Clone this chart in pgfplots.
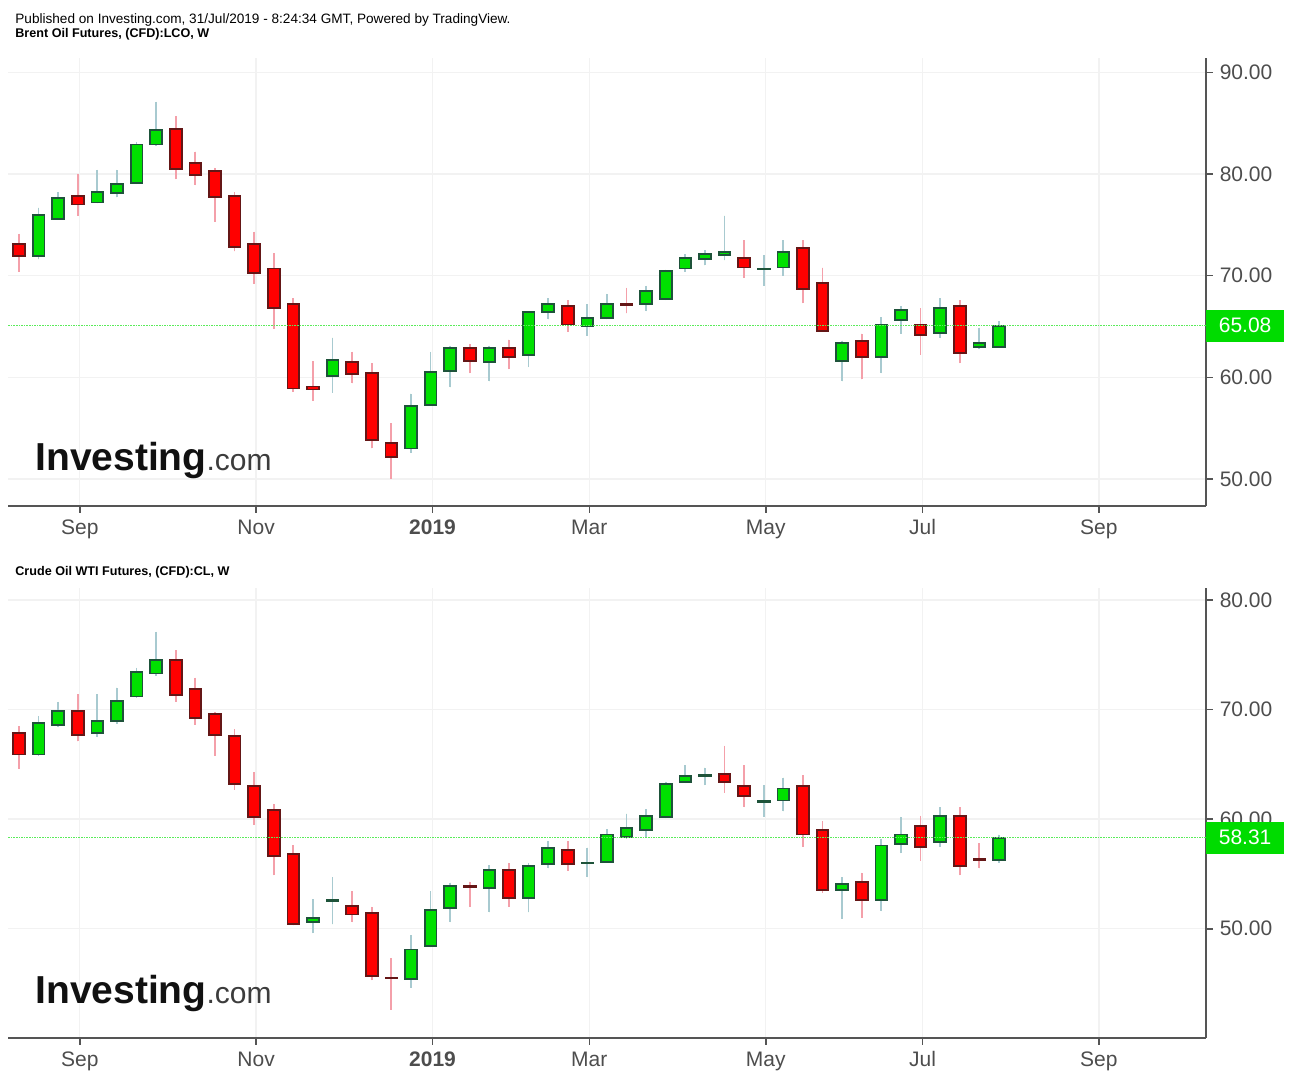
\documentclass[border=0pt]{standalone}
\usepackage{pgfplots}
\pgfplotsset{compat=1.18}
\usepackage{pgfplotstable}
\usepgfplotslibrary{statistics}
\usepackage{fontspec}
\setmainfont{Liberation Sans}

\definecolor{upfill}{RGB}{0,224,0}
\definecolor{upline}{RGB}{30,83,58}
\definecolor{upwick}{RGB}{168,202,208}
\definecolor{dnfill}{RGB}{255,0,0}
\definecolor{dnline}{RGB}{100,22,22}
\definecolor{dnwick}{RGB}{244,160,170}
\definecolor{gridcol}{RGB}{242,242,242}
\definecolor{axiscol}{RGB}{85,85,85}
\definecolor{tickcol}{RGB}{77,77,77}
\definecolor{pricegreen}{RGB}{0,220,0}
\definecolor{lastline}{RGB}{90,235,90}
\definecolor{logoblack}{RGB}{17,17,17}
\definecolor{logogrey}{RGB}{60,60,60}

\pgfplotstableread{
o c h l
73.1 71.9 74.1 70.4
71.9 76.0 76.7 71.6
75.6 77.6 78.2 75.5
77.8 77.0 80.0 75.9
77.2 78.2 80.4 77.1
78.1 79.0 80.4 77.7
79.1 82.9 83.1 79.0
82.9 84.3 87.1 82.8
84.4 80.5 85.7 79.5
81.1 79.9 82.2 78.9
80.3 77.7 80.6 75.3
77.8 72.8 78.2 72.4
73.1 70.3 74.3 69.2
70.7 66.8 72.2 64.8
67.2 58.9 67.8 58.6
59.1 58.8 61.6 57.7
60.1 61.7 63.9 58.5
61.5 60.3 62.5 59.4
60.4 53.8 61.4 53.0
53.5 52.2 55.5 50.0
53.0 57.2 58.4 52.6
57.3 60.5 62.5 57.2
60.6 62.9 63.1 59.0
62.9 61.6 63.3 60.4
61.5 62.9 63.1 59.6
62.9 62.0 63.7 60.8
62.2 66.4 66.5 61.0
66.4 67.2 67.8 65.7
67.0 65.2 67.6 64.5
65.0 65.8 67.2 64.1
65.8 67.2 68.2 65.7
67.2 67.15 68.8 66.3
67.2 68.5 69.0 66.5
67.7 70.5 70.6 67.6
70.7 71.7 72.1 70.4
71.6 72.1 72.5 71.0
72.0 72.3 75.9 71.5
71.7 70.8 73.5 69.8
70.65 70.7 72.0 69.0
70.8 72.3 73.5 70.0
72.7 68.7 73.5 67.3
69.3 64.6 70.8 64.5
61.6 63.4 63.6 59.6
63.6 62.0 64.3 59.8
62.0 65.2 65.9 60.4
65.6 66.6 67.0 64.3
65.2 64.2 66.8 62.2
64.4 66.8 67.8 63.9
67.0 62.4 67.6 61.4
63.0 63.4 64.9 62.8
63.0 65.08 65.5 62.9
}\brent

\pgfplotstableread{
o c h l
67.9 65.9 68.5 64.6
65.9 68.8 69.4 65.8
68.6 69.9 70.7 68.4
69.9 67.7 71.4 67.1
67.9 69.0 71.4 67.5
69.0 70.8 72.0 68.7
71.2 73.4 73.8 71.1
73.3 74.5 77.1 73.1
74.5 71.3 75.4 70.7
71.9 69.2 72.9 68.6
69.6 67.7 69.8 65.8
67.6 63.2 68.2 62.7
63.0 60.2 64.3 59.5
60.8 56.6 61.4 54.9
56.8 50.4 57.6 50.3
50.6 51.0 52.7 49.6
52.55 52.6 54.7 50.4
52.1 51.3 53.4 50.6
51.4 45.7 52.0 45.3
45.55 45.5 47.3 42.6
45.4 48.1 49.4 44.6
48.4 51.7 53.4 48.3
51.9 53.9 54.2 50.6
53.9 53.8 54.3 52.0
53.7 55.4 55.8 51.5
55.4 52.8 56.0 52.0
52.8 55.7 56.0 51.5
55.9 57.4 58.0 55.5
57.2 55.9 58.0 55.3
55.95 56.0 57.4 54.7
56.1 58.6 59.1 56.0
58.4 59.2 60.5 58.2
59.0 60.3 60.9 58.4
60.2 63.2 63.4 60.1
63.4 63.9 64.9 63.3
63.95 64.0 64.7 63.1
64.1 63.4 66.7 62.4
63.0 62.1 64.9 61.1
61.6 61.65 63.1 60.2
61.7 62.8 63.8 60.7
63.0 58.6 64.0 57.5
59.0 53.5 59.8 53.3
53.5 54.1 54.7 50.9
54.3 52.6 55.1 51.0
52.6 57.6 58.2 51.6
57.7 58.6 60.2 56.9
59.4 57.5 60.3 56.2
57.9 60.3 61.1 57.5
60.3 55.7 61.1 54.9
56.35 56.3 57.8 55.5
56.3 58.31 58.6 56.0
}\wti

\pgfplotsset{
  candleaxis/.style={
    scale only axis, width=598.7pt,
    xmin=-0.546, xmax=60.55,
    axis x line*=bottom, axis y line*=right,
    axis line style={-, draw=axiscol, line width=1pt},
    xtick={3.1,12.1,21.1,29.1,38.1,46.1,55.1},
    xticklabels={Sep,Nov,\textbf{2019},Mar,May,Jul,Sep},
    tick align=outside,
    major tick length=3.5pt,
    tick style={draw=axiscol, line width=0.8pt},
    xmajorgrids, ymajorgrids,
    major grid style={draw=gridcol, line width=0.7pt},
    tick label style={font=\fontsize{10.5}{12}\selectfont, text=tickcol},
    y tick label style={/pgf/number format/.cd, fixed, fixed zerofill, precision=2, assume math mode=true},
    clip mode=individual,
    boxplot/draw direction=y,
    boxplot/box extend=0.6,
    boxplot/whisker extend=0,
  },
  upc/.style={draw=upline, fill=upfill, line width=0.95pt,
    boxplot/every whisker/.style={draw=upwick, line width=0.9pt},
    boxplot/every median/.style={draw=upline, line width=0.95pt}},
  dnc/.style={draw=dnline, fill=dnfill, line width=0.95pt,
    boxplot/every whisker/.style={draw=dnwick, line width=0.9pt},
    boxplot/every median/.style={draw=dnline, line width=0.95pt}},
}

\begin{document}
\begin{tikzpicture}
\useasboundingbox (0,0) rectangle (645pt,-538pt);

\node[anchor=base west, inner sep=0] at (7.5pt,-11.65pt) {\fontsize{6.8}{8}\selectfont Published on Investing.com, 31/Jul/2019 - 8:24:34 GMT, Powered by TradingView.};
\node[anchor=base west, inner sep=0] at (7.5pt,-18.65pt) {\fontsize{6.3}{8}\selectfont\bfseries Brent Oil Futures, (CFD):LCO, W};
\node[anchor=base west, inner sep=0] at (7.5pt,-287.5pt) {\fontsize{6.3}{8}\selectfont\bfseries Crude Oil WTI Futures, (CFD):CL, W};

\begin{axis}[candleaxis, at={(4.15pt,-252.85pt)}, anchor=south west,
  height=223.7pt, ymin=47.37, ymax=91.38, ytick={50,60,70,80,90}]
\pgfplotsinvokeforeach{0,...,50}{
  \pgfplotstablegetelem{#1}{o}\of\brent\let\cO\pgfplotsretval
  \pgfplotstablegetelem{#1}{c}\of\brent\let\cC\pgfplotsretval
  \pgfplotstablegetelem{#1}{h}\of\brent\let\cH\pgfplotsretval
  \pgfplotstablegetelem{#1}{l}\of\brent\let\cL\pgfplotsretval
  \ifdim\cC pt<\cO pt \def\sty{dnc}\let\lo\cC\let\hi\cO
  \else \def\sty{upc}\let\lo\cO\let\hi\cC\fi
  \edef\doit{\noexpand\addplot[\sty, boxplot prepared={draw position=#1, lower whisker=\cL, lower quartile=\lo, median=\lo, upper quartile=\hi, upper whisker=\cH}] coordinates {};}
  \doit
}
\draw[color=lastline, line width=0.7pt, dash pattern=on 0.8pt off 0.5pt] (axis cs:-0.546,65.08) -- (axis cs:60.55,65.08);
\node[fill=pricegreen, text=white, anchor=west, inner sep=0pt, minimum width=39pt, minimum height=16pt, font=\fontsize{10.5}{12}\selectfont] at (axis cs:60.55,65.08) {65.08};
\end{axis}

\begin{axis}[candleaxis, at={(4.15pt,-518.75pt)}, anchor=south west,
  height=224.75pt, ymin=40.07, ymax=81.1, ytick={50,60,70,80}]
\pgfplotsinvokeforeach{0,...,50}{
  \pgfplotstablegetelem{#1}{o}\of\wti\let\cO\pgfplotsretval
  \pgfplotstablegetelem{#1}{c}\of\wti\let\cC\pgfplotsretval
  \pgfplotstablegetelem{#1}{h}\of\wti\let\cH\pgfplotsretval
  \pgfplotstablegetelem{#1}{l}\of\wti\let\cL\pgfplotsretval
  \ifdim\cC pt<\cO pt \def\sty{dnc}\let\lo\cC\let\hi\cO
  \else \def\sty{upc}\let\lo\cO\let\hi\cC\fi
  \edef\doit{\noexpand\addplot[\sty, boxplot prepared={draw position=#1, lower whisker=\cL, lower quartile=\lo, median=\lo, upper quartile=\hi, upper whisker=\cH}] coordinates {};}
  \doit
}
\draw[color=lastline, line width=0.7pt, dash pattern=on 0.8pt off 0.5pt] (axis cs:-0.546,58.31) -- (axis cs:60.55,58.31);
\node[fill=pricegreen, text=white, anchor=west, inner sep=0pt, minimum width=39pt, minimum height=16pt, font=\fontsize{10.5}{12}\selectfont] at (axis cs:60.55,58.31) {58.31};
\end{axis}

\node[anchor=base west, inner sep=0] at (17.5pt,-235pt) {\fontsize{19.5}{20}\selectfont\bfseries\color{logoblack}Investing\fontsize{15}{16}\selectfont\mdseries\color{logogrey}.com};
\node[anchor=base west, inner sep=0] at (17.5pt,-501.5pt) {\fontsize{19.5}{20}\selectfont\bfseries\color{logoblack}Investing\fontsize{15}{16}\selectfont\mdseries\color{logogrey}.com};
\end{tikzpicture}
\end{document}
